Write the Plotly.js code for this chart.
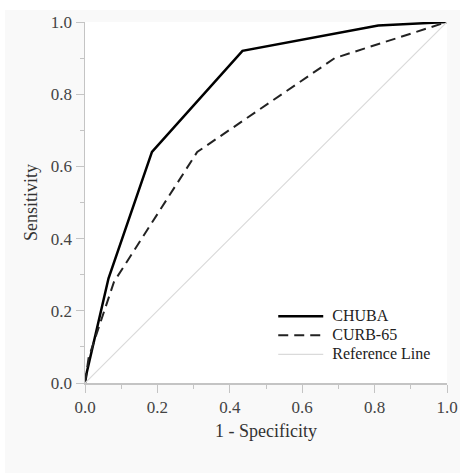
<!DOCTYPE html>
<html>
<head>
<meta charset="utf-8">
<script src="https://cdn.plot.ly/plotly-3.0.1.min.js"></script>
<style>
html,body{margin:0;padding:0;background:#ffffff;}
#wrap{position:absolute;left:5px;top:10px;width:455px;height:463px;}
#chart{width:455px;height:463px;}
</style>
</head>
<body>
<div id="wrap"><div id="chart"></div></div>
<script>
var chubaX = [0, 0.005, 0.065, 0.185, 0.435, 0.81, 1.0];
var chubaY = [0, 0.03, 0.29, 0.64, 0.92, 0.99, 1.0];
var curbX = [0, 0.01, 0.08, 0.31, 0.69, 1.0];
var curbY = [0, 0.07, 0.28, 0.64, 0.90, 1.0];
var refX = [0, 1];
var refY = [0, 1];
var seriesNames = ['CHUBA', 'CURB-65', 'Reference Line'];
var tickVals = [0, 0.2, 0.4, 0.6, 0.8, 1.0];
var tickText = ['0.0', '0.2', '0.4', '0.6', '0.8', '1.0'];

var serif = 'Liberation Serif, Times New Roman, serif';
function legendName(s) {
  return '<span style="font-size:16px">&nbsp;' + s + '</span>';
}

var traces = [
  {x: chubaX, y: chubaY, mode: 'lines', name: legendName(seriesNames[0]),
   line: {color: '#000000', width: 2.5}},
  {x: curbX, y: curbY, mode: 'lines', name: legendName(seriesNames[1]),
   line: {color: '#222222', width: 2, dash: '10px,6px'}},
  {x: refX, y: refY, mode: 'lines', name: legendName(seriesNames[2]),
   line: {color: '#dadada', width: 1.2}}
];

var axisCommon = {
  range: [0, 1], tickvals: tickVals, ticktext: tickText,
  showgrid: false, zeroline: false, showline: true,
  linecolor: '#c4c4c4', linewidth: 1.5,
  ticks: 'outside', ticklen: 8, tickcolor: '#c4c4c4', tickwidth: 1,
  minor: {dtick: 0.1, tick0: 0, ticks: 'outside', ticklen: 4, tickcolor: '#c4c4c4', tickwidth: 1},
  tickfont: {family: serif, size: 17, color: '#444444'},
  fixedrange: true
};

var layout = {
  width: 455, height: 463,
  margin: {l: 80, r: 13, t: 12, b: 90},
  paper_bgcolor: '#f9f9f9',
  plot_bgcolor: '#ffffff',
  showlegend: true,
  legend: {
    x: 0.52, y: 0.225, xanchor: 'left', yanchor: 'top',
    bgcolor: 'rgba(0,0,0,0)', borderwidth: 0,
    font: {family: serif, size: 12, color: '#222222'},
    itemwidth: 45, tracegroupgap: 0
  },
  xaxis: Object.assign({}, axisCommon, {
    title: {text: '1 - Specificity', font: {family: serif, size: 18, color: '#333333'}, standoff: 8}
  }),
  yaxis: Object.assign({}, axisCommon, {
    title: {text: 'Sensitivity', font: {family: serif, size: 18, color: '#333333'}, standoff: 8}
  })
};

Plotly.newPlot('chart', traces, layout, {displayModeBar: false, staticPlot: true});
</script>
</body>
</html>
